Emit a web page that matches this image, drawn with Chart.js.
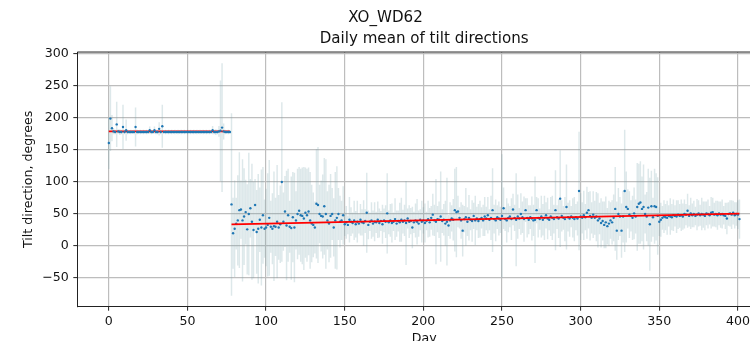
<!DOCTYPE html>
<html>
<head>
<meta charset="utf-8">
<script src="https://cdn.jsdelivr.net/npm/chart.js@4.4.1/dist/chart.umd.min.js"></script>
<style>
  html, body { margin: 0; padding: 0; overflow: hidden; background: #fff; }
  #wrap { width: 826px; height: 341px; }
</style>
</head>
<body>
<div id="wrap"><canvas id="tilt-chart" width="826" height="341"></canvas></div>
<script>
// Period 1: days 0..77, daily mean tilt direction and its spread (degrees)
const p1Start = 0;
const p1Mean = [
	161, 199, 184, 179, 178, 190, 179, 178, 178, 186,
	178, 181, 178, 178, 178, 178, 178, 186, 178, 178,
	178, 178, 178, 178, 178, 178, 181, 178, 178, 181,
	178, 178, 183, 178, 187, 178, 178, 178, 178, 178,
	178, 178, 178, 178, 178, 178, 178, 178, 178, 178,
	178, 178, 178, 178, 178, 178, 178, 178, 178, 178,
	178, 178, 178, 178, 178, 178, 181, 178, 178, 178,
	179, 180, 185, 179, 178, 178, 178, 178,
];
const p1Std = [
	40, 50, 20, 4, 3, 35, 3, 4, 3, 34,
	3, 16, 3, 2, 3, 2, 3, 30, 3, 2,
	3, 2, 3, 2, 3, 2, 5, 3, 2, 5,
	3, 3, 10, 3, 33, 2, 3, 2, 3, 2,
	3, 2, 3, 2, 3, 2, 3, 2, 3, 2,
	3, 2, 3, 2, 3, 2, 3, 2, 3, 2,
	3, 2, 3, 2, 3, 2, 6, 3, 4, 3,
	8, 78, 100, 12, 3, 2, 3, 2,
];

// Period 2: days 78..401
const p2Start = 78;
const p2Mean = [
	65, 20, 27, 35, 40, 56, 57, 40, 46, 53,
	26, 50, 59, 38, 25, 64, 22, 27, 41, 29,
	48, 27, 29, 33, 44, 30, 27, 31, 30, 38,
	29, 34, 100, 38, 54, 32, 48, 30, 28, 45,
	29, 40, 50, 55, 48, 47, 43, 52, 48, 54,
	40, 35, 33, 29, 66, 64, 50, 47, 46, 62,
	50, 40, 35, 47, 50, 29, 40, 44, 50, 38,
	40, 48, 34, 37, 33, 41, 38, 36, 40, 34,
	38, 35, 41, 37, 36, 39, 52, 33, 38, 40,
	35, 38, 37, 41, 36, 39, 34, 40, 38, 51,
	37, 40, 36, 38, 42, 35, 39, 37, 41, 38,
	40, 36, 43, 38, 39, 29, 37, 40, 38, 35,
	41, 38, 40, 36, 39, 42, 37, 44, 49, 40,
	38, 42, 41, 46, 39, 41, 35, 38, 32, 40,
	43, 41, 56, 53, 54, 44, 40, 24, 42, 45,
	38, 44, 41, 39, 47, 40, 43, 39, 42, 44,
	40, 46, 43, 48, 41, 44, 56, 42, 40, 45,
	43, 41, 47, 59, 42, 40, 44, 46, 42, 57,
	44, 41, 46, 43, 50, 45, 42, 56, 44, 41,
	45, 43, 40, 41, 56, 44, 42, 46, 41, 44,
	48, 43, 41, 46, 44, 42, 56, 45, 43, 74,
	47, 44, 42, 61, 45, 43, 46, 44, 42, 45,
	43, 86, 46, 44, 48, 45, 52, 56, 47, 44,
	49, 44, 46, 40, 43, 36, 39, 33, 37, 31,
	35, 40, 37, 44, 58, 24, 50, 46, 24, 46,
	86, 61, 58, 49, 47, 44, 51, 46, 61, 66,
	68, 58, 61, 50, 46, 60, 34, 62, 45, 62,
	61, 47, 38, 41, 44, 46, 45, 44, 47, 46,
	45, 48, 47, 46, 49, 47, 48, 46, 50, 49,
	55, 47, 51, 48, 50, 47, 49, 51, 48, 50,
	49, 47, 51, 50, 48, 52, 53, 49, 50, 48,
	51, 49, 50, 48, 47, 43, 50, 51, 49, 52,
	48, 50, 49, 42,
];
const p2Std = [
	142, 55, 75, 40, 70, 90, 45, 95, 75, 50,
	70, 95, 45, 90, 75, 40, 65, 85, 50, 90,
	75, 45, 60, 80, 90, 40, 55, 85, 45, 88,
	50, 60, 124, 45, 55, 85, 72, 40, 80, 70,
	85, 45, 70, 68, 72, 75, 80, 70, 72, 68,
	75, 60, 50, 40, 85, 90, 45, 55, 65, 75,
	85, 45, 60, 65, 40, 45, 75, 80, 40, 40,
	30, 45, 18, 25, 14, 35, 22, 16, 30, 20,
	32, 15, 24, 20, 35, 18, 62, 22, 14, 28,
	20, 30, 16, 28, 22, 15, 30, 18, 25, 62,
	18, 25, 30, 14, 32, 20, 16, 30, 34, 18,
	24, 65, 15, 25, 20, 32, 16, 26, 35, 20,
	16, 32, 20, 30, 14, 28, 22, 18, 32, 24,
	66, 20, 28, 70, 18, 24, 35, 68, 16, 28,
	20, 32, 64, 70, 24, 16, 28, 40, 20, 45,
	22, 35, 16, 32, 20, 38, 18, 26, 28, 16,
	24, 30, 18, 28, 16, 34, 65, 22, 32, 18,
	26, 20, 96, 32, 18, 34, 22, 16, 32, 24,
	20, 72, 34, 16, 32, 24, 35, 18, 30, 22,
	18, 34, 24, 67, 20, 30, 16, 32, 24, 34,
	20, 32, 16, 30, 34, 22, 62, 18, 30, 75,
	24, 18, 34, 66, 22, 28, 16, 30, 34, 20,
	26, 92, 36, 24, 38, 20, 40, 28, 38, 24,
	36, 26, 38, 42, 24, 38, 30, 36, 40, 28,
	35, 28, 34, 36, 65, 45, 40, 30, 42, 40,
	95, 55, 30, 36, 24, 34, 40, 26, 68, 62,
	64, 50, 66, 30, 38, 60, 72, 55, 30, 58,
	52, 60, 22, 26, 18, 25, 20, 26, 16, 28,
	20, 24, 16, 25, 22, 18, 24, 20, 22, 16,
	26, 16, 24, 18, 20, 14, 24, 20, 16, 25,
	20, 22, 18, 22, 14, 24, 22, 18, 20, 22,
	18, 20, 22, 14, 20, 24, 18, 20, 22, 18,
	20, 18, 22, 30,
];

// linear fits for each period (end points)
const fitDays1 = [0, 77];
const fitTilt1 = [179, 179];
const fitDays2 = [78, 401];
const fitTilt2 = [33.8, 50.6];

const dayTicks = [0, 50, 100, 150, 200, 250, 300, 350, 400];
const tiltTicks = [-50, 0, 50, 100, 150, 200, 250, 300];

const FONT = 'DejaVu Sans';

const days = p1Mean.map((_, i) => p1Start + i).concat(p2Mean.map((_, i) => p2Start + i));
const means = p1Mean.concat(p2Mean);
const stds = p1Std.concat(p2Std);

const errorBars = days.map((d, i) => ({ x: d, y: [means[i] - stds[i], means[i] + stds[i]] }));
const meanPoints = days.map((d, i) => ({ x: d, y: means[i] }));
const fitLine1 = fitDays1.map((d, i) => ({ x: d, y: fitTilt1[i] }));
const fitLine2 = fitDays2.map((d, i) => ({ x: d, y: fitTilt2[i] }));

// top and right spines, like the matplotlib frame
const frame = {
	id: 'frame',
	afterDatasetsDraw(chart) {
		const { ctx, chartArea: a } = chart;
		ctx.save();
		ctx.strokeStyle = '#222';
		ctx.lineWidth = 1;
		ctx.beginPath();
		ctx.moveTo(a.left, a.top);
		ctx.lineTo(a.right, a.top);
		ctx.lineTo(a.right, a.bottom);
		ctx.stroke();
		ctx.restore();
	},
};

new Chart(document.getElementById('tilt-chart'), {
	type: 'line',
	data: {
		datasets: [
			{
				type: 'line',
				label: 'fit 2',
				data: fitLine2,
				borderColor: '#ff0000',
				borderWidth: 1.9,
				pointRadius: 0,
				order: 0,
			},
			{
				type: 'line',
				label: 'daily mean',
				data: meanPoints,
				showLine: false,
				pointRadius: 1.2,
				pointBorderWidth: 0,
				pointBackgroundColor: '#1f77b4',
				order: 1,
			},
			{
				type: 'line',
				label: 'fit 1',
				data: fitLine1,
				borderColor: '#ff0000',
				borderWidth: 1.9,
				pointRadius: 0,
				order: 2,
			},
			{
				type: 'bar',
				label: 'spread',
				data: errorBars,
				backgroundColor: 'rgba(125,165,175,0.26)',
				borderWidth: 0,
				barThickness: 0.8,
				grouped: false,
				order: 3,
			},
		],
	},
	options: {
		responsive: false,
		animation: false,
		devicePixelRatio: 1,
		layout: { padding: { left: 0, right: 55, top: 0, bottom: 0 } },
		plugins: {
			legend: { display: false },
			tooltip: { enabled: false },
			title: {
				display: true,
				text: 'XO_WD62',
				color: '#111',
				font: { family: FONT, size: 15.1, weight: 'normal', lineHeight: 1.2 },
				padding: { top: 8.7, bottom: 0 },
			},
			subtitle: {
				display: true,
				fullSize: false,
				text: 'Daily mean of tilt directions',
				color: '#111',
				font: { family: FONT, size: 15.1, weight: 'normal', lineHeight: 1.2 },
				padding: { top: 3.6, bottom: 3.5 },
			},
		},
		scales: {
			x: {
				type: 'linear',
				min: -20.05,
				max: 421.05,
				offset: false,
				afterFit: s => { s.height = 34.3; },
				afterBuildTicks: s => { s.ticks = dayTicks.map(v => ({ value: v })); },
				grid: { color: '#bdbdbd', lineWidth: 1.2, offset: false, tickLength: 4, tickColor: '#222', tickWidth: 1 },
				border: { display: true, color: '#222', width: 1 },
				ticks: { color: '#111', font: { family: FONT, size: 12.6 }, padding: 3, maxRotation: 0 },
				title: {
					display: true,
					text: 'Day',
					color: '#111',
					font: { family: FONT, size: 12.6 },
					padding: { top: 0, bottom: -5 },
				},
			},
			y: {
				type: 'linear',
				min: -94.8,
				max: 303,
				afterFit: s => { s.width = 77.3; },
				afterBuildTicks: s => { s.ticks = tiltTicks.map(v => ({ value: v })); },
				grid: { color: '#bdbdbd', lineWidth: 1.2, tickLength: 4, tickColor: '#222', tickWidth: 1 },
				border: { display: true, color: '#222', width: 1 },
				ticks: {
					color: '#111',
					font: { family: FONT, size: 12.6 },
					padding: 4.5,
					callback: v => (v < 0 ? '\u2212' + Math.abs(v) : String(v)),
				},
				title: {
					display: true,
					text: 'Tilt direction, degrees',
					color: '#111',
					font: { family: FONT, size: 12.6 },
					padding: { top: 21.4, bottom: 0 },
				},
			},
		},
	},
	plugins: [frame],
});
</script>
</body>
</html>
